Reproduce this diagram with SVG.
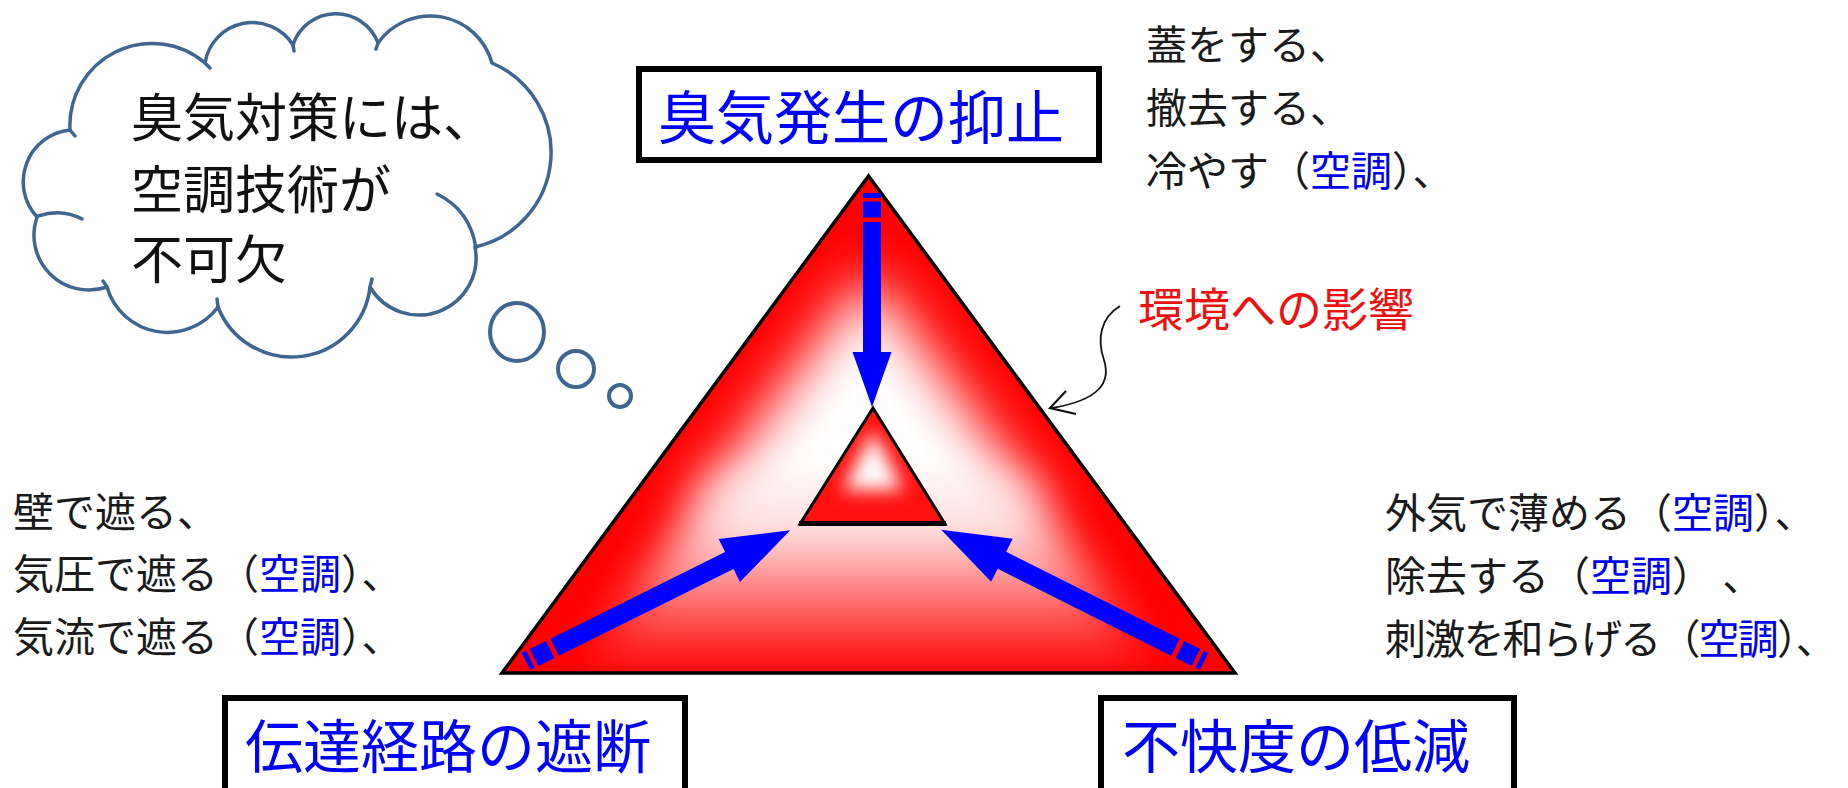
<svg xmlns="http://www.w3.org/2000/svg" width="1848" height="788" viewBox="0 0 1848 788">
<style>
.t{font-family:"Noto Sans CJK JP","Noto Sans",sans-serif}
.side{font-size:41px;fill:#1a1a1a}
.ac{fill:#0000ee}
.lbl{font-size:58px;fill:#0000ff}
.box{fill:#fff;stroke:#000;stroke-width:6}
.cloud{fill:#fff;stroke:#3f6690;stroke-width:3.5;stroke-linejoin:round}
.tick{fill:none;stroke:#3f6690;stroke-width:3.5;stroke-linecap:round}
.bub{fill:#fff;stroke:#3f6690;stroke-width:4}
.blue{fill:#0000ff}
</style>
<defs>
<clipPath id="clipBig"><polygon points="868.5,176 502,673 1235,673"/></clipPath>
<clipPath id="clipInner"><polygon points="873,408 800,524 945,524"/></clipPath>
<filter id="blurBig" filterUnits="userSpaceOnUse" x="400" y="100" width="1000" height="650"><feGaussianBlur stdDeviation="28"/></filter>
<filter id="blurLow" filterUnits="userSpaceOnUse" x="400" y="380" width="1000" height="400"><feGaussianBlur stdDeviation="22"/></filter>
<filter id="blurSmall" filterUnits="userSpaceOnUse" x="760" y="380" width="230" height="180"><feGaussianBlur stdDeviation="9"/></filter>
<linearGradient id="lowFade" gradientUnits="userSpaceOnUse" x1="0" y1="480" x2="0" y2="673">
<stop offset="0" stop-color="#fff" stop-opacity="0.85"/>
<stop offset="0.36" stop-color="#fff" stop-opacity="0.75"/>
<stop offset="0.7" stop-color="#fff" stop-opacity="0.35"/>
<stop offset="1" stop-color="#fff" stop-opacity="0"/>
</linearGradient>
</defs>
<rect width="1848" height="788" fill="#fff"/>

<g id="node-cloud">
<path class="cloud" d="M70,130 A82,82 0 0,1 205,63 A48,48 0 0,1 293,45 A45,45 0 0,1 378,43 A64,64 0 0,1 492,63 A97,97 0 0,1 475,247 A57,57 0 0,1 370,287 A79,79 0 0,1 218,307 A63,63 0 0,1 107,287 A55,55 0 0,1 37,217 A52,52 0 0,1 70,130 Z"/>
<path class="tick" d="M38,216 Q62,208 82,219"/>
<path class="tick" d="M437,194 Q470,210 476,248"/>
<path class="tick" d="M70,130 l5,6 M205,63 l5,5 M293,45 l1,6 M378,43 l-2,6 M370,287 l2,-8 M218,307 l-1,-8 M107,287 l-4,-6"/>
<ellipse class="bub" cx="517" cy="332" rx="27" ry="29"/>
<circle class="bub" cx="576" cy="369" r="18"/>
<circle class="bub" cx="620" cy="396" r="11"/>
<text class="t" font-size="52" fill="#111"><tspan x="131" y="137">臭気対策には、</tspan><tspan x="131" y="209">空調技術が</tspan><tspan x="131" y="279">不可欠</tspan></text>
</g>

<g id="node-triangle">
<polygon points="868.5,176 502,673 1235,673" fill="#ff0000"/>
<g clip-path="url(#clipBig)">
<polygon points="868.5,273 687,520 1050,520" fill="#fff" filter="url(#blurBig)"/>
<polygon points="716,480 1021,480 1163,673 574,673" fill="url(#lowFade)" filter="url(#blurLow)"/>
</g>
<polygon points="868.5,176 502,673 1235,673" fill="none" stroke="#000" stroke-width="3.5"/>
<polygon points="873,408 800,524 945,524" fill="#ff1010"/>
<g clip-path="url(#clipInner)"><polygon points="873,430 843,490 903,490" fill="#fff" filter="url(#blurSmall)"/></g>
<polygon points="873,408 800,524 945,524" fill="none" stroke="#000" stroke-width="3"/>
<line x1="799" y1="523.5" x2="946" y2="523.5" stroke="#000" stroke-width="5"/>
</g>

<g id="connectors">
<g class="blue" transform="translate(872,193) rotate(90)">
<rect x="0" y="-9" width="5" height="18"/>
<rect x="8.5" y="-9" width="16" height="18"/>
<polygon points="29,-9 159,-9 159,-19.5 214,0 159,19.5 159,9 29,9"/>
</g>
<g class="blue" transform="translate(526,661.5) rotate(-26.4)">
<rect x="0" y="-9.5" width="5" height="19"/>
<rect x="9" y="-9.5" width="18" height="19"/>
<polygon points="32,-9.5 227,-9.5 227,-24 295,0 227,24 227,9.5 32,9.5"/>
</g>
<g class="blue" transform="translate(1204,661.5) rotate(-153.4)">
<rect x="0" y="-9.5" width="5" height="19"/>
<rect x="9" y="-9.5" width="18" height="19"/>
<polygon points="32,-9.5 226,-9.5 226,-24 294,0 226,24 226,9.5 32,9.5"/>
</g>
<path d="M1120,306 C1100,318 1097,340 1104,360 C1111,382 1100,400 1052,408" fill="none" stroke="#111" stroke-width="1.8"/>
<path d="M1066,391 L1050,408 L1076,414" fill="none" stroke="#111" stroke-width="2.2" stroke-linejoin="miter"/>
</g>

<g id="node-top">
<rect class="box" x="639" y="69" width="460" height="91"/>
<text class="t lbl" x="658" y="139">臭気発生の抑止</text>
</g>
<g id="node-left">
<rect class="box" x="225" y="698" width="460" height="100"/>
<text class="t lbl" x="245" y="768">伝達経路の遮断</text>
</g>
<g id="node-right">
<rect class="box" x="1101" y="698" width="413" height="100"/>
<text class="t lbl" x="1122" y="768">不快度の低減</text>
</g>

<g id="note-top">
<text class="t side" x="1146" y="60">蓋をする、</text>
<text class="t side" x="1146" y="123">撤去する、</text>
<text class="t side" x="1146" y="186">冷やす（<tspan class="ac">空調</tspan>）、</text>
</g>
<g id="note-env">
<text class="t" x="1138" y="326" font-size="46" fill="#ee1111">環境への影響</text>
</g>
<g id="note-left">
<text class="t side" x="13" y="527">壁で遮る、</text>
<text class="t side" x="13" y="589">気圧で遮る（<tspan class="ac">空調</tspan>）、</text>
<text class="t side" x="13" y="652">気流で遮る（<tspan class="ac">空調</tspan>）、</text>
</g>
<g id="note-right">
<text class="t side" x="1385" y="528">外気で薄める（<tspan class="ac">空調</tspan>）、</text>
<text class="t side" x="1385" y="591">除去する（<tspan class="ac">空調</tspan>） 、</text>
<text class="t side" x="1385" y="654" letter-spacing="-1.8">刺激を和らげる（<tspan class="ac">空調</tspan>）、</text>
</g>
</svg>
